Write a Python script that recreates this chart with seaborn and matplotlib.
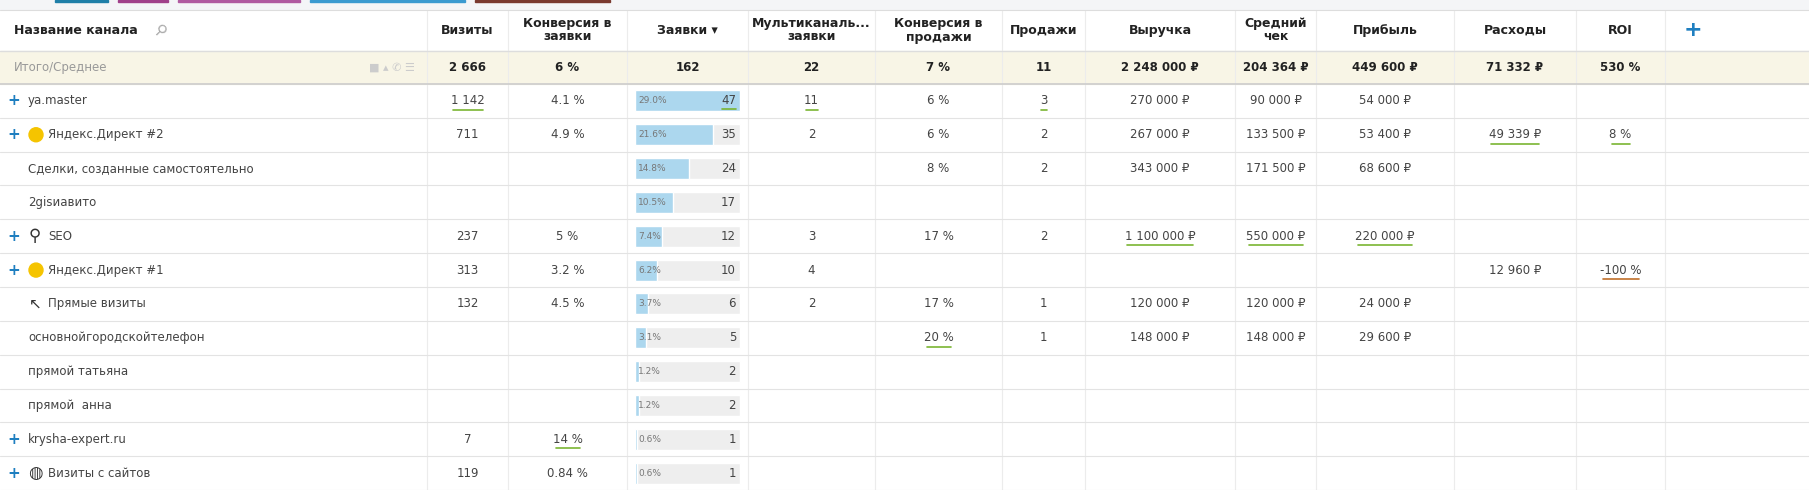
import matplotlib.pyplot as plt
import seaborn as sns

# table data
headers = ["Название канала", "Визиты", "Конверсия в\nзаявки", "Заявки ▾", "Мультиканаль...\nзаявки",
           "Конверсия в\nпродажи", "Продажи", "Выручка", "Средний\nчек", "Прибыль", "Расходы", "ROI"]
totals = ["Итого/Среднее", "2 666", "6 %", "162", "22", "7 %", "11", "2 248 000 ₽", "204 364 ₽",
          "449 600 ₽", "71 332 ₽", "530 %"]
channels = ["ya.master", "Яндекс.Директ #2", "Сделки, созданные самостоятельно", "2gisиавито", "SEO",
            "Яндекс.Директ #1", "Прямые визиты", "основнойгородскойтелефон", "прямой татьяна",
            "прямой  анна", "krysha-expert.ru", "Визиты с сайтов"]
has_plus = [1, 1, 0, 0, 1, 1, 0, 0, 0, 0, 1, 1]
visits = ["1 142", "711", "", "", "237", "313", "132", "", "", "", "7", "119"]
conv_leads = ["4.1 %", "4.9 %", "", "", "5 %", "3.2 %", "4.5 %", "", "", "", "14 %", "0.84 %"]
leads = [47, 35, 24, 17, 12, 10, 6, 5, 2, 2, 1, 1]
lead_share = ["29.0%", "21.6%", "14.8%", "10.5%", "7.4%", "6.2%", "3.7%", "3.1%", "1.2%", "1.2%", "0.6%", "0.6%"]
multi = ["11", "2", "", "", "3", "4", "2", "", "", "", "", ""]
conv_sales = ["6 %", "6 %", "8 %", "", "17 %", "", "17 %", "20 %", "", "", "", ""]
sales = ["3", "2", "2", "", "2", "", "1", "1", "", "", "", ""]
revenue = ["270 000 ₽", "267 000 ₽", "343 000 ₽", "", "1 100 000 ₽", "", "120 000 ₽", "148 000 ₽", "", "", "", ""]
avg_check = ["90 000 ₽", "133 500 ₽", "171 500 ₽", "", "550 000 ₽", "", "120 000 ₽", "148 000 ₽", "", "", "", ""]
profit = ["54 000 ₽", "53 400 ₽", "68 600 ₽", "", "220 000 ₽", "", "24 000 ₽", "29 600 ₽", "", "", "", ""]
costs = ["", "49 339 ₽", "", "", "", "12 960 ₽", "", "", "", "", "", ""]
roi = ["", "8 %", "", "", "", "-100 %", "", "", "", "", "", ""]
underlined = {(0, 1), (0, 4), (0, 6), (1, 10), (1, 11), (4, 7), (4, 8), (4, 9), (5, 11), (7, 5), (10, 2)}

sns.set_theme(style="white")
plt.rcParams["font.family"] = ["DejaVu Sans"]

W, H = 1809, 490
fig = plt.figure(figsize=(W / 100, H / 100), dpi=100)
ax = fig.add_axes([0, 0, 1, 1])
ax.set_xlim(0, W)
ax.set_ylim(H, 0)
ax.axis("off")

edges = [0, 427, 508, 627, 748, 875, 1002, 1085, 1235, 1316, 1454, 1576, 1665, 1720]
centers = [(edges[i] + edges[i + 1]) / 2 for i in range(len(edges) - 1)]
grid = "#dddddd"
txt = "#444444"

# top strip with colored tabs
ax.add_patch(plt.Rectangle((0, 0), W, 9, color="#f4f5f7"))
for x0, x1, c in [(55, 108, "#1f7fa8"), (118, 168, "#a0408a"), (178, 300, "#b05aa0"),
                  (310, 465, "#3a9ad0"), (475, 610, "#7a3a30")]:
    ax.add_patch(plt.Rectangle((x0, 0), x1 - x0, 2, color=c))

hdr_top, hdr_bot = 10, 51
tot_bot = 84
row_h = (H - tot_bot) / len(channels)

# header
for i, h in enumerate(headers):
    if i == 0:
        ax.text(14, (hdr_top + hdr_bot) / 2, h, ha="left", va="center", fontsize=9, color="#222", fontweight="bold")
        ax.text(160, (hdr_top + hdr_bot) / 2, "⚲", ha="center", va="center", fontsize=11, color="#aaa", rotation=-45)
    else:
        ax.text(centers[i], (hdr_top + hdr_bot) / 2, h, ha="center", va="center", fontsize=9, color="#222",
                fontweight="bold", linespacing=1.0)
ax.text(centers[12], (hdr_top + hdr_bot) / 2, "+", ha="center", va="center", fontsize=16, color="#1f7fc0", fontweight="bold")
for x in edges[1:-1]:
    ax.plot([x, x], [hdr_top, H], color="#ececec", lw=0.8)
ax.plot([0, W], [hdr_top, hdr_top], color=grid, lw=0.8)

# totals row
ax.add_patch(plt.Rectangle((0, hdr_bot), W, tot_bot - hdr_bot, color="#f8f5e6", zorder=0))
ax.plot([0, W], [hdr_bot, hdr_bot], color=grid, lw=1.0)
ym = (hdr_bot + tot_bot) / 2
ax.text(14, ym, totals[0], ha="left", va="center", fontsize=8.5, color="#999")
ax.text(415, ym, "■ ▴ ✆ ☰", ha="right", va="center", fontsize=8, color="#ccc")
for i in range(1, len(totals)):
    ax.text(centers[i], ym, totals[i], ha="center", va="center", fontsize=8.5, color="#222", fontweight="bold")
ax.plot([0, W], [tot_bot, tot_bot], color="#cccccc", lw=1.2)

cols = [None, visits, conv_leads, None, multi, conv_sales, sales, revenue, avg_check, profit, costs, roi]
bx0, bw = edges[3] + 8, edges[4] - edges[3] - 16
ys = [tot_bot + (r + 0.5) * row_h for r in range(len(channels))]

# bars in the "Заявки" column
ax.barh(ys, [bw] * len(ys), left=bx0, height=row_h * 0.62, color="#eeeeee", zorder=1)
ax.barh(ys, [v / max(leads) * bw for v in leads], left=bx0, height=row_h * 0.62, color="#acd7ee", zorder=2)

for r, name in enumerate(channels):
    y = ys[r]
    ax.plot([0, W], [tot_bot + (r + 1) * row_h] * 2, color="#e3e3e3", lw=0.8)
    x = 14
    if has_plus[r]:
        ax.text(x, y, "+", ha="center", va="center", fontsize=11, color="#1f7fc0", fontweight="bold")
    x = 28
    if name.startswith("Яндекс"):
        ax.add_patch(plt.Circle((x + 8, y), 7, color="#f5c400", zorder=3))
        x += 20
    elif name in ("SEO", "Визиты с сайтов"):
        ax.text(x + 7, y, "⚲" if name == "SEO" else "◍", ha="center", va="center", fontsize=12, color="#333")
        x += 20
    elif name == "Прямые визиты":
        ax.text(x + 7, y, "↖", ha="center", va="center", fontsize=11, color="#333")
        x += 20
    ax.text(x, y, name, ha="left", va="center", fontsize=8.5, color=txt)
    for i in range(1, len(cols)):
        if i == 3:
            ax.text(bx0 + 3, y, lead_share[r], ha="left", va="center", fontsize=6.5, color="#777", zorder=3)
            ax.text(bx0 + bw - 4, y, str(leads[r]), ha="right", va="center", fontsize=8.5, color=txt, zorder=3)
            if r == 0:
                ax.plot([bx0 + bw - 18, bx0 + bw - 4], [y + 8, y + 8], color="#7ab532", lw=1.2, zorder=3)
            continue
        v = cols[i][r]
        if v:
            ax.text(centers[i], y, v, ha="center", va="center", fontsize=8.5, color=txt)
            if (r, i) in underlined:
                hw = len(v) * 3.0
                c = "#c0702a" if v.startswith("-") else "#7ab532"
                ax.plot([centers[i] - hw, centers[i] + hw], [y + 9, y + 9], color=c, lw=1.2)

fig.savefig("out.png", dpi=100)
